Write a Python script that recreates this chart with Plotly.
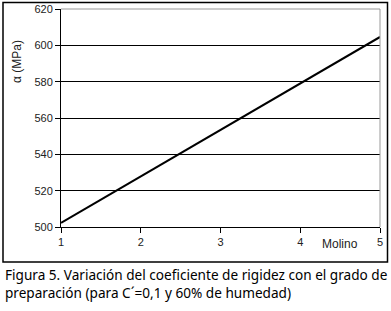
import plotly.graph_objects as go

molino = [1, 2, 3, 4, 5]
rigidez = [502.3, 527.9, 553.5, 579.0, 604.6]
y_ticks = [500, 520, 540, 560, 580, 600, 620]
x_ticks = [1, 2, 3, 4, 5]

W, H = 391, 311
L, R, T, B = 61, 11, 9, 84
pw, ph = W - L - R, H - T - B

def px(x):
    return (x - L) / pw

def py(y):
    return (H - B - y) / ph

bx0, bx1, by0, by1 = px(3), px(387.5), py(2.5), py(262)
frame = dict(color="black", width=1.5)

fig = go.Figure()
fig.add_trace(go.Scatter(x=molino, y=rigidez, mode="lines",
                         line=dict(color="black", width=2), showlegend=False))

fig.update_layout(
    width=W, height=H,
    margin=dict(l=L, r=R, t=T, b=B, pad=0),
    paper_bgcolor="white", plot_bgcolor="white",
    font=dict(family="Liberation Sans, Arial", size=11, color="#222"),
    xaxis=dict(range=[1, 5], tickvals=x_ticks, showgrid=False, zeroline=False,
               showline=True, linecolor="black", linewidth=1, automargin=False,
               ticks="outside", ticklen=5, tickcolor="black",
               tickfont=dict(size=11)),
    yaxis=dict(range=[500, 620], tickvals=y_ticks, showgrid=True, gridcolor="black",
               gridwidth=1, zeroline=False, showline=True, linecolor="black",
               linewidth=1, ticks="outside", ticklen=5, tickcolor="black",
               automargin=False, tickfont=dict(size=11)),
    shapes=[
        dict(type="line", xref="paper", yref="paper", x0=0, x1=1, y0=1, y1=1,
             line=dict(color="#999", width=1)),
        dict(type="line", xref="paper", yref="paper", x0=1, x1=1, y0=0, y1=1,
             line=dict(color="#999", width=1)),
        dict(type="path", xref="paper", yref="paper",
             path=f"M {bx0},{by0} L {bx1},{by0} L {bx1},{by1} L {bx0},{by1} Z",
             line=frame),
    ],
    annotations=[
        dict(text="α (MPa)", xref="paper", yref="paper", x=px(17), y=py(62),
             textangle=-90, showarrow=False, font=dict(size=12),
             xanchor="center", yanchor="middle"),
        dict(text="Molino", xref="paper", yref="paper", x=px(340), y=py(244),
             showarrow=False, font=dict(size=12), xanchor="center", yanchor="middle"),
        dict(text="Figura 5. Variación del coeficiente de rigidez con el grado de<br>"
                  "preparación (para C´=0,1 y 60% de humedad)",
             xref="paper", yref="paper", x=px(3), y=py(263), align="left",
             showarrow=False, xanchor="left", yanchor="top",
             font=dict(family="Noto Sans", size=13.6, color="black")),
    ],
)

fig.write_html("out.html", config={"displayModeBar": False},
               post_script="document.body.style.margin='0';document.body.style.overflow='hidden';")
